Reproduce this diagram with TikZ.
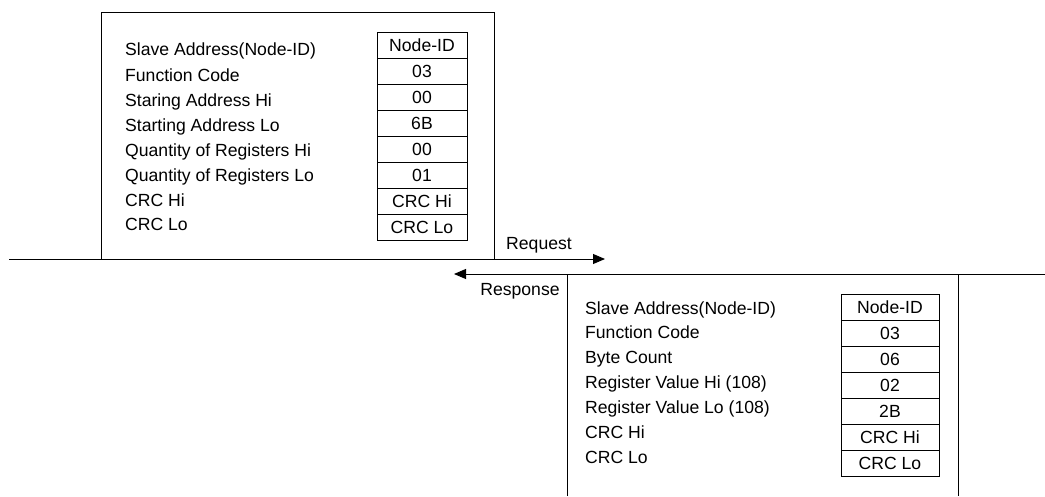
\documentclass[tikz,border=0pt]{standalone}
\usepackage{fontspec}
\setmainfont{Liberation Sans}
\usetikzlibrary{arrows.meta}

\begin{document}
\begin{tikzpicture}[
    x=1pt, y=-1pt,
    font=\fontsize{17.6}{20}\selectfont,
    frame/.style={rectangle, draw, line width=0.9pt, inner sep=0pt},
    field/.style={anchor=west, inner sep=0pt, text height=12.5pt, text depth=0pt},
    cell/.style={rectangle, draw, line width=0.8pt, minimum height=26pt, inner sep=0pt, text height=12.5pt, text depth=0pt, align=center},
    reqcell/.style={cell, minimum width=90pt},
    respcell/.style={cell, minimum width=98pt},
    arrow/.style={-{Triangle[length=12pt, width=10pt]}, line width=0.9pt},
    tag/.style={inner sep=0pt, text height=12.5pt, text depth=0pt}
]

\useasboundingbox (0,0) rectangle (1045,496);

% Request frame
\node[frame, minimum width=393pt, minimum height=247pt] (req_frame) at (297.5,135.5) {};

% Request fields
\node[field] (req_f1) at (125,49) {Slave Address(Node-ID)};
\node[field] (req_f2) at (125,75) {Function Code};
\node[field] (req_f3) at (125,100) {Staring Address Hi};
\node[field] (req_f4) at (125,125) {Starting Address Lo};
\node[field] (req_f5) at (125,150) {Quantity of Registers Hi};
\node[field] (req_f6) at (125,175) {Quantity of Registers Lo};
\node[field] (req_f7) at (125,200) {CRC Hi};
\node[field] (req_f8) at (125,224) {CRC Lo};

% Request values
\node[reqcell] (req_v1) at (422,45) {Node-ID};
\node[reqcell] (req_v2) at (422,71) {03};
\node[reqcell] (req_v3) at (422,97) {00};
\node[reqcell] (req_v4) at (422,123) {6B};
\node[reqcell] (req_v5) at (422,149) {00};
\node[reqcell] (req_v6) at (422,175) {01};
\node[reqcell] (req_v7) at (422,201) {CRC Hi};
\node[reqcell] (req_v8) at (422,227) {CRC Lo};

% Request line
\coordinate (req_start) at (9,259);
\coordinate (req_end) at (605,259);
\node[tag] (req_tag) at (539,243) {Request};

% Response line
\coordinate (resp_start) at (1045,274);
\coordinate (resp_end) at (454,274);
\node[tag] (resp_tag) at (520,289) {Response};

% Response frame
\coordinate (resp_bl) at (567,496);
\coordinate (resp_tl) at (567,274);
\coordinate (resp_tr) at (958,274);
\coordinate (resp_br) at (958,496);

% Response fields
\node[field] (resp_f1) at (585,308) {Slave Address(Node-ID)};
\node[field] (resp_f2) at (585,332) {Function Code};
\node[field] (resp_f3) at (585,357) {Byte Count};
\node[field] (resp_f4) at (585,382) {Register Value Hi (108)};
\node[field] (resp_f5) at (585,407) {Register Value Lo (108)};
\node[field] (resp_f6) at (585,432) {CRC Hi};
\node[field] (resp_f7) at (585,457) {CRC Lo};

% Response values
\node[respcell] (resp_v1) at (890,307) {Node-ID};
\node[respcell] (resp_v2) at (890,333) {03};
\node[respcell] (resp_v3) at (890,359) {06};
\node[respcell] (resp_v4) at (890,385) {02};
\node[respcell] (resp_v5) at (890,411) {2B};
\node[respcell] (resp_v6) at (890,437) {CRC Hi};
\node[respcell] (resp_v7) at (890,463) {CRC Lo};

% Arrows
\draw[arrow] (req_start) -- (req_end);
\draw[arrow] (resp_start) -- (resp_end);

% Response frame sides
\draw[line width=0.9pt] (resp_bl) -- (resp_tl) -- (resp_tr) -- (resp_br);

\end{tikzpicture}
\end{document}
